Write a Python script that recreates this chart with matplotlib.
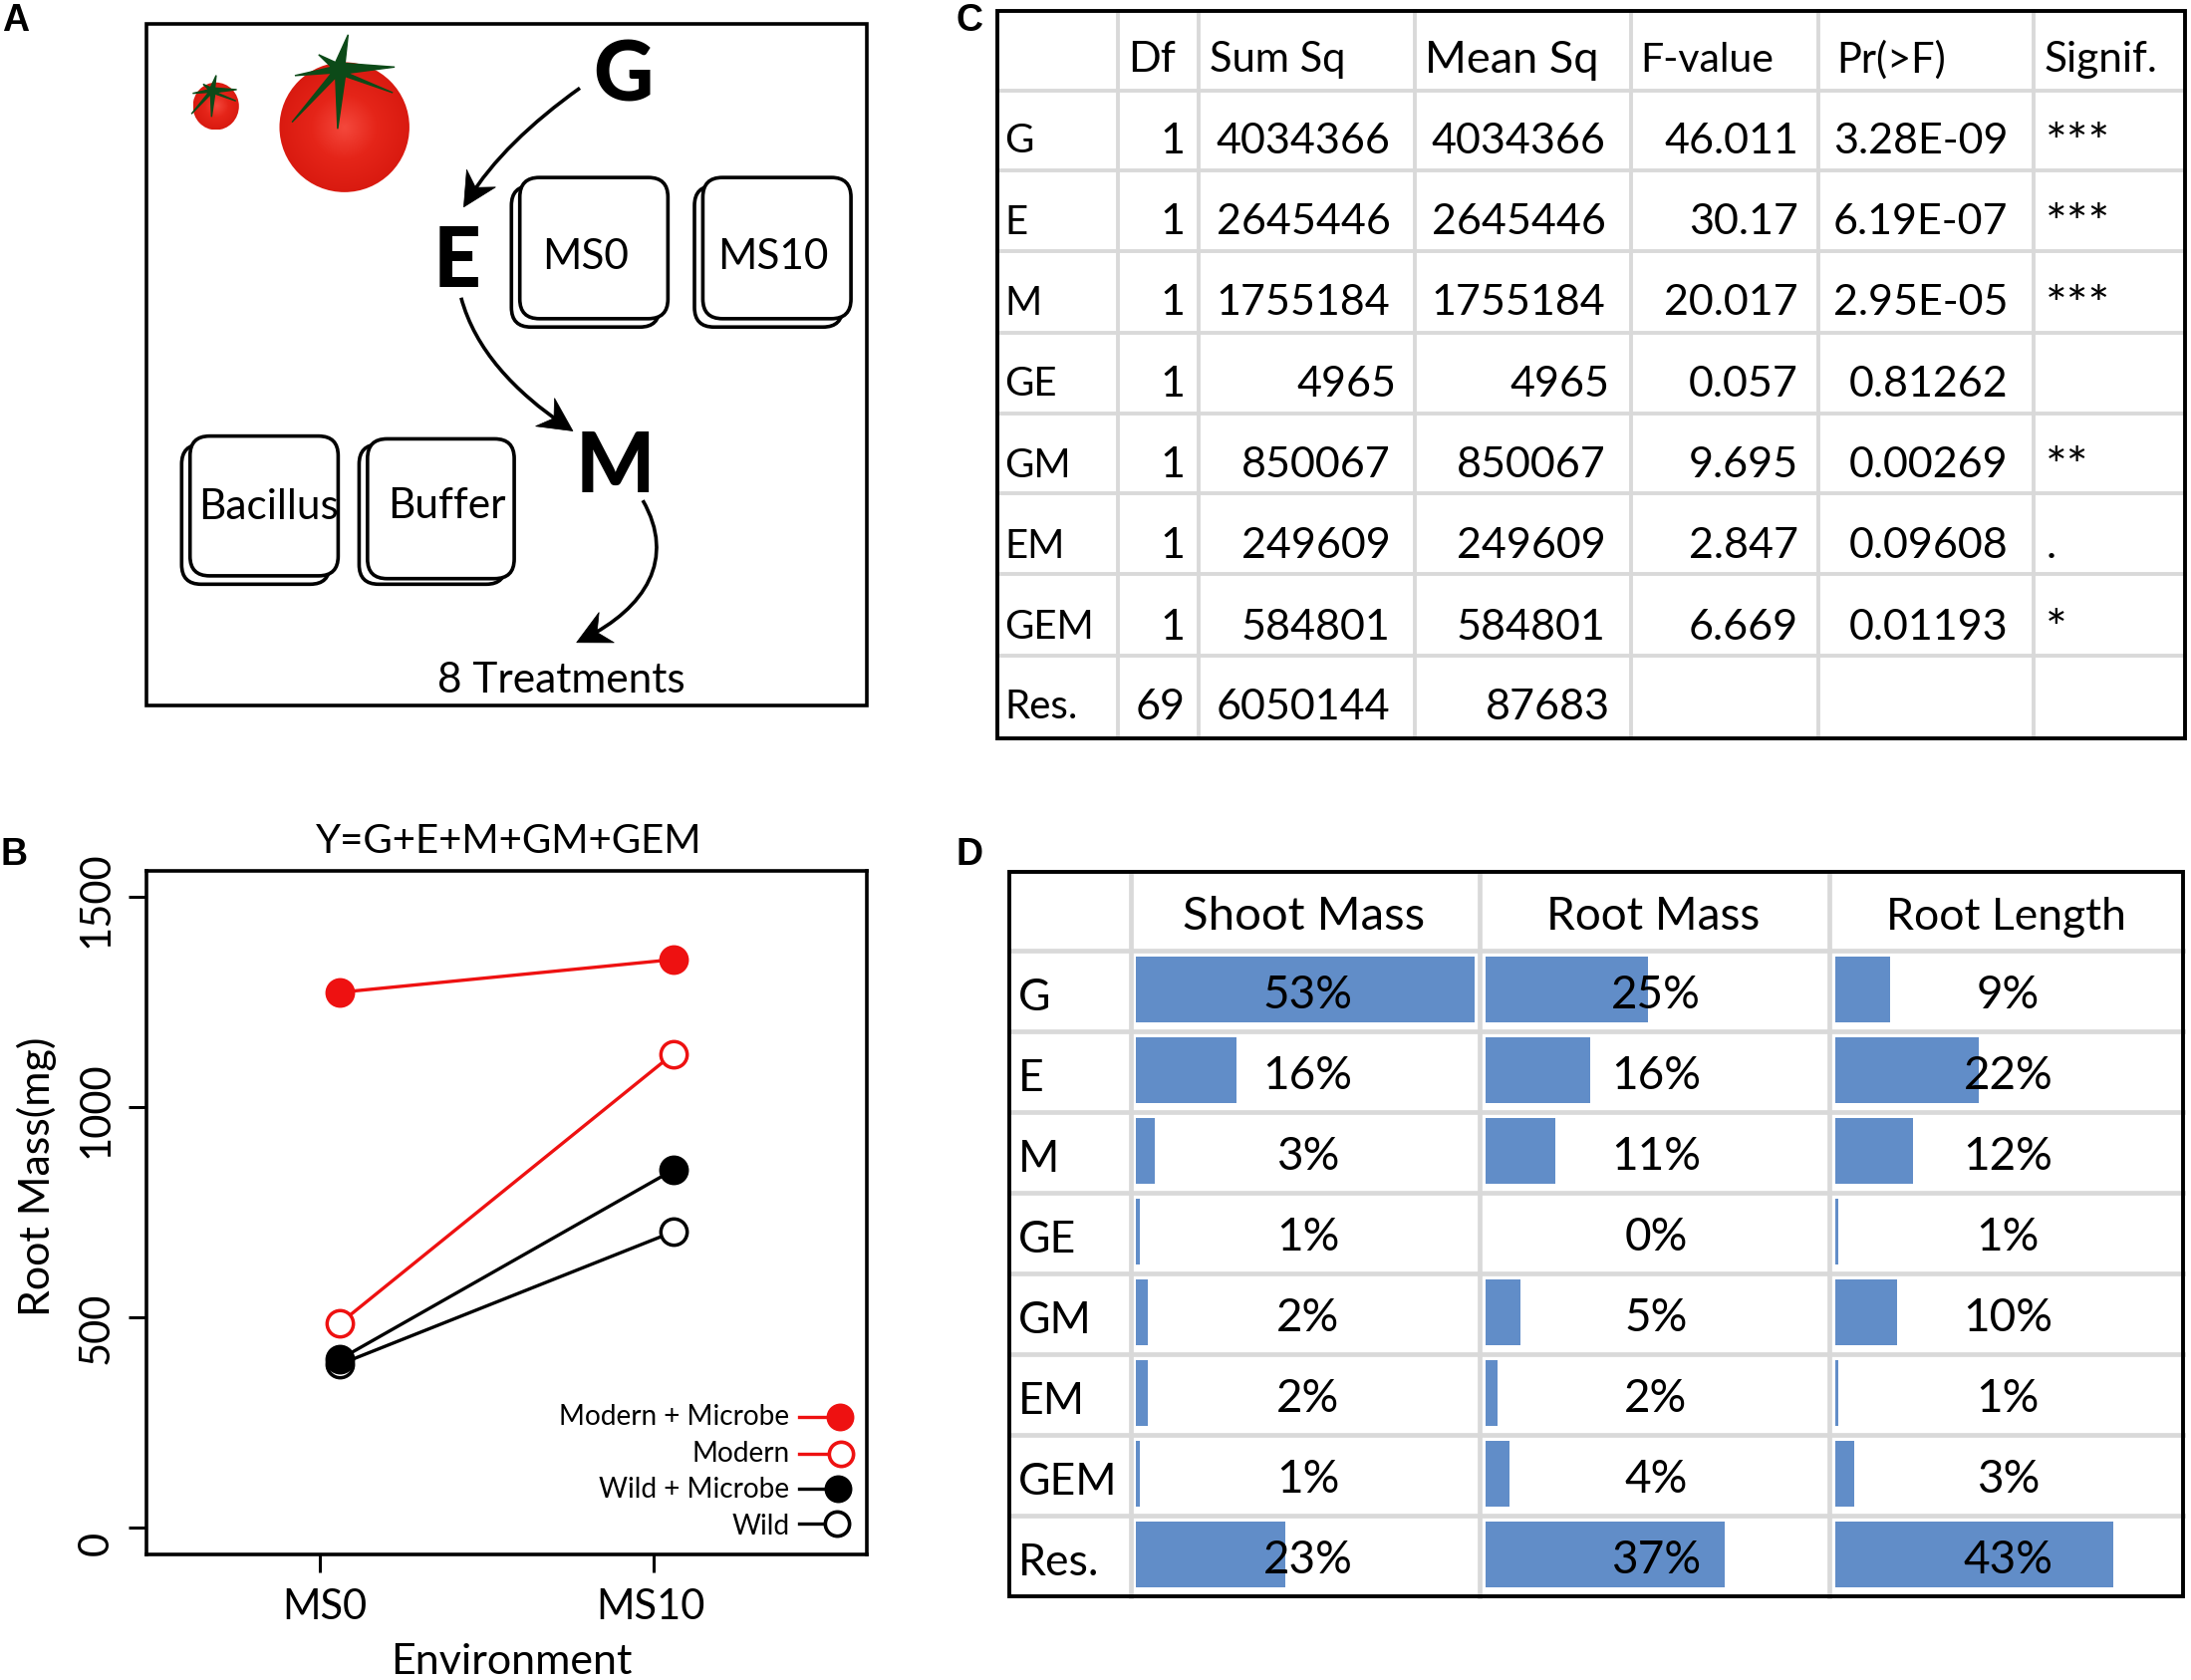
import numpy as np
import matplotlib
matplotlib.use("Agg")
import matplotlib.pyplot as plt
from matplotlib.patches import FancyBboxPatch, Ellipse, Polygon, PathPatch, Rectangle
from matplotlib.path import Path
from matplotlib.transforms import ScaledTranslation
from matplotlib.lines import Line2D
from matplotlib.colors import LinearSegmentedColormap

# ---------- data ----------
environments = ["MS0", "MS10"]
modern_microbe = [1272, 1350]
modern = [485, 1126]
wild_microbe = [400, 850]
wild = [388, 703]

anova_rows = ["G", "E", "M", "GE", "GM", "EM", "GEM", "Res."]
anova_head = ["Df", "Sum Sq", "Mean Sq", "F-value", "Pr(>F)", "Signif."]
df_vals = ["1", "1", "1", "1", "1", "1", "1", "69"]
sum_sq = ["4034366", "2645446", "1755184", "4965", "850067", "249609", "584801", "6050144"]
mean_sq = ["4034366", "2645446", "1755184", "4965", "850067", "249609", "584801", "87683"]
f_vals = ["46.011", "30.17", "20.017", "0.057", "9.695", "2.847", "6.669", ""]
p_vals = ["3.28E-09", "6.19E-07", "2.95E-05", "0.81262", "0.00269", "0.09608", "0.01193", ""]
signif = ["***", "***", "***", "", "**", ".", "*", ""]

var_cols = ["Shoot Mass", "Root Mass", "Root Length"]
shoot_pct = [53, 15.8, 3, 0.6, 1.8, 1.8, 0.6, 23.4]
root_pct = [25.3, 16.3, 10.9, 0, 5.4, 1.8, 3.6, 37.3]
length_pct = [8.6, 22.4, 12.1, 0.5, 9.7, 0.5, 3, 43.5]
shoot_lab = ["53%", "16%", "3%", "1%", "2%", "2%", "1%", "23%"]
root_lab = ["25%", "16%", "11%", "0%", "5%", "2%", "4%", "37%"]
length_lab = ["9%", "22%", "12%", "1%", "10%", "1%", "3%", "43%"]

# ---------- setup ----------
FONT = ["Lato", "DejaVu Sans"]
plt.rcParams["font.family"] = FONT
W, H = 1568.0, 1202.0
fig = plt.figure(figsize=(21.99, 16.86), dpi=100)

def axpx(x0, y0, x1, y1, **kw):
    return fig.add_axes([x0 / W, 1 - y1 / H, (x1 - x0) / W, (y1 - y0) / H], **kw)

RED = "#EE1111"
# ---------- panel B ----------
axb = axpx(105, 623, 620, 1112)
xs = np.array([1.06, 2.06])
for vals, col, filled in [(wild, "black", False), (wild_microbe, "black", True),
                          (modern, RED, False), (modern_microbe, RED, True)]:
    axb.plot(xs, vals, color=col, lw=2.4, marker="o", ms=19, mew=2.5,
             mfc=col if filled else "white", mec=col, clip_on=False)
axb.set_xlim(0.482, 2.639)
axb.set_ylim(-63, 1561)
axb.set_xticks([1, 2])
axb.set_xticklabels(environments, fontsize=30)
axb.set_yticks([0, 500, 1000, 1500])
axb.set_yticklabels(["0", "500", "1000", "1500"], fontsize=30, rotation=90, va="center")
axb.tick_params(axis="both", length=13, width=2.2, pad=10)
axb.tick_params(axis="x", pad=12)
for s in axb.spines.values():
    s.set_linewidth(2.6)
px = 72 / 100 * 1.4024 / 72
for lab, dy in zip(axb.get_yticklabels(), [-11, -8, -2, -2]):
    lab.set_transform(lab.get_transform() + ScaledTranslation(0, dy * px, fig.dpi_scale_trans))
for lab, dx in zip(axb.get_xticklabels(), [4, -2]):
    lab.set_transform(lab.get_transform() + ScaledTranslation(dx * px, 0, fig.dpi_scale_trans))

# ---------- panel D bars ----------
row_top, row_h = 680.0, 57.75
for x0, pct in zip([813, 1063.5, 1313.5], [shoot_pct, root_pct, length_pct]):
    a = axpx(x0, row_top - 1, x0 + 4.57 * 54, row_top - 1 + 8 * row_h)
    a.barh(np.arange(8), pct, height=0.82, color="#618DC8", linewidth=0)
    a.set_xlim(0, 54)
    a.set_ylim(7.5, -0.5)
    a.axis("off")

# ---------- overlay in picture coordinates ----------
ov = fig.add_axes([0, 0, 1, 1], facecolor="none")
ov.set_axis_off()

def T(x, y, s, size, ha="center", va="center", **kw):
    ov.text(x, y + 2, s, fontsize=size, ha=ha, va=va, color=kw.pop("color", "black"), **kw)

# panel letters
for x, y, s in [(11, 13, "A"), (10, 610, "B"), (694, 13, "C"), (694, 610, "D")]:
    T(x, y, s, 27, family="Liberation Sans", weight="bold")

# panel A frame
ov.add_patch(Rectangle((105, 17), 515, 488, fill=False, ec="black", lw=2.6))

# tomatoes
cmap = LinearSegmentedColormap.from_list("tom", ["#F4483C", "#E52519", "#D91A10"])
yy, xx = np.mgrid[-1:1:200j, -1:1:200j]
rad = np.sqrt(xx ** 2 + yy ** 2)
for cx, cy, rx, ry in [(246.5, 91, 46.5, 46.5), (154.5, 76, 16.5, 17)]:
    im = ov.imshow(rad, cmap=cmap, vmin=0, vmax=1, extent=(cx - rx, cx + rx, cy + ry, cy - ry),
                   aspect="auto", zorder=2)
    e = Ellipse((cx, cy), 2 * rx, 2 * ry, transform=ov.transData, fc="none", ec="none")
    ov.add_patch(e)
    im.set_clip_path(e)

def star(cx, cy, scale):
    tips = [(9, -37), (58, -3), (56, 24), (-2, 62), (-50, 55), (-47, 6), (-22, -16)]
    pts = []
    for (tx, ty) in tips:
        ang = np.arctan2(ty, tx)
        pts.append((cx + scale * tx, cy + scale * ty))
        a2 = ang + 0.45
        pts.append((cx + scale * 9 * np.cos(a2), cy + scale * 9 * np.sin(a2)))
    ov.add_patch(Polygon(pts, closed=True, fc="#0C4A18", ec="#0C4A18", lw=1.0, zorder=3))
star(243, 50, 0.68)
star(152, 65, 0.30)

# stacked rounded boxes
def stacked(x0, y0, x1, y1, dx=6, dy=6):
    for off, z in [((-dx, dy), 3), ((0, 0), 4)]:
        ov.add_patch(FancyBboxPatch((x0 + off[0] + 12, y0 + off[1] + 12), x1 - x0 - 24, y1 - y0 - 24,
                                    boxstyle="round,pad=12,rounding_size=14", fc="white",
                                    ec="black", lw=2.6, zorder=z))
stacked(372, 127, 478, 228)
stacked(503, 127, 609, 228)
stacked(136, 312, 242, 412)
stacked(263, 314, 368, 414, dy=4)
for x, y, s in [(419, 182, "MS0"), (553, 182, "MS10"), (192, 361, "Bacillus"),
                (320, 360, "Buffer"), (402, 485, "8 Treatments")]:
    T(x, y, s, 30.5, zorder=6)
for x, y, s in [(446, 53, "G"), (327, 186, "E"), (440, 333, "M")]:
    T(x, y, s, 60, weight="black", zorder=6)

# curved arrows
def arrow(p0, c1, c2, p3):
    p = PathPatch(Path([p0, c1, c2, p3], [Path.MOVETO, Path.CURVE4, Path.CURVE4, Path.CURVE4]),
                  fc="none", ec="black", lw=2.6, zorder=5)
    ov.add_patch(p)
    p3a, c2a = np.array(p3, float), np.array(c2, float)
    d = (p3a - c2a) / np.linalg.norm(p3a - c2a)
    n = np.array([-d[1], d[0]])
    L, w = 24, 11
    tip = p3a + d * 6
    poly = [tip, tip - d * L + n * w * 1.1, tip - d * L * 0.68, tip - d * L - n * w * 1.1]
    ov.add_patch(Polygon(poly, closed=True, fc="black", ec="black", lw=0.5, zorder=5))
arrow((415, 63), (380, 88), (352, 115), (335, 143))
arrow((330, 213), (340, 250), (368, 280), (405, 305))
arrow((460, 358), (484, 400), (462, 435), (418, 457))

# panel B text and legend
T(364, 600, "Y=G+E+M+GM+GEM", 29)
T(366, 1187, "Environment", 31)
T(26, 840, "Root Mass(mg)", 31, rotation=90)
legend_rows = [("Modern + Microbe", RED, True, 1014, 601, 1012), ("Modern", RED, False, 1040, 602, 1038),
               ("Wild + Microbe", "black", True, 1065, 600, 1064), ("Wild", "black", False, 1090, 599, 1090)]
for s, col, filled, y, mx, ty in legend_rows:
    T(565, ty, s, 20.2, ha="right")
    ov.add_line(Line2D([572, mx], [y, y], color=col, lw=2.4, zorder=6))
    ov.add_line(Line2D([mx], [y], marker="o", ms=17.5, mew=2.6, mec=col,
                       mfc=col if filled else "white", zorder=7))

# ---------- panel C ----------
GREY = "#D9D9D9"
cx0, cx1, cy0, cy1 = 714, 1564, 8, 528
for y in [64.6, 122, 180, 238, 295.6, 353, 411, 469]:
    ov.add_line(Line2D([cx0, cx1], [y, y], color=GREY, lw=2.8))
for x in [800, 858, 1012.5, 1167, 1301, 1455]:
    ov.add_line(Line2D([x, x], [cy0, cy1], color=GREY, lw=2.8))
ov.add_patch(Rectangle((cx0, cy0), cx1 - cx0, cy1 - cy0, fill=False, ec="black", lw=2.8, zorder=5))
for x, s, fs in zip([807, 866, 1020, 1174, 1314, 1463], anova_head, [31, 30, 32.5, 29.5, 30, 30.5]):
    T(x, 41, s, fs, ha="left")
rows_y = [99, 157, 215, 273, 331, 389, 447, 504]
for i, y in enumerate(rows_y):
    T(719, y, anova_rows[i], 29, ha="left")
    T(848, y, df_vals[i], 31, ha="right")
    T(999 if len(sum_sq[i]) < 6 else 995, y, sum_sq[i], 31, ha="right")
    T(1152 if len(mean_sq[i]) < 6 else 1149, y, mean_sq[i], 31, ha="right")
    T(1287, y, f_vals[i], 31, ha="right")
    T(1437, y, p_vals[i], 31, ha="right")
    if signif[i] == ".":
        T(1464, y, signif[i], 31, ha="left")
    else:
        T(1464, y + 3, signif[i], 37, ha="left")

# ---------- panel D ----------
dx0, dx1, dy0, dy1 = 722, 1562, 624, 1142
for i in range(8):
    y = row_top + i * row_h
    ov.add_line(Line2D([dx0, dx1], [y, y], color=GREY, lw=3.4))
for x in [809, 1059, 1309]:
    ov.add_line(Line2D([x, x], [dy0, dy1], color=GREY, lw=3.4))
ov.add_patch(Rectangle((dx0, dy0), dx1 - dx0, dy1 - dy0, fill=False, ec="black", lw=2.8, zorder=5))
for x, s, fs in zip([933, 1183, 1436], var_cols, [34, 33, 32]):
    T(x, 654, s, fs)
for i in range(8):
    yc = row_top + (i + 0.5) * row_h
    T(729, yc + 3, anova_rows[i], 32, ha="left")
    for x, labs in zip([936, 1185, 1437], [shoot_lab, root_lab, length_lab]):
        T(x, yc + 1.5, labs[i], 33)

ov.set_xlim(0, W)
ov.set_ylim(H, 0)
fig.savefig("out.png", dpi=100)
